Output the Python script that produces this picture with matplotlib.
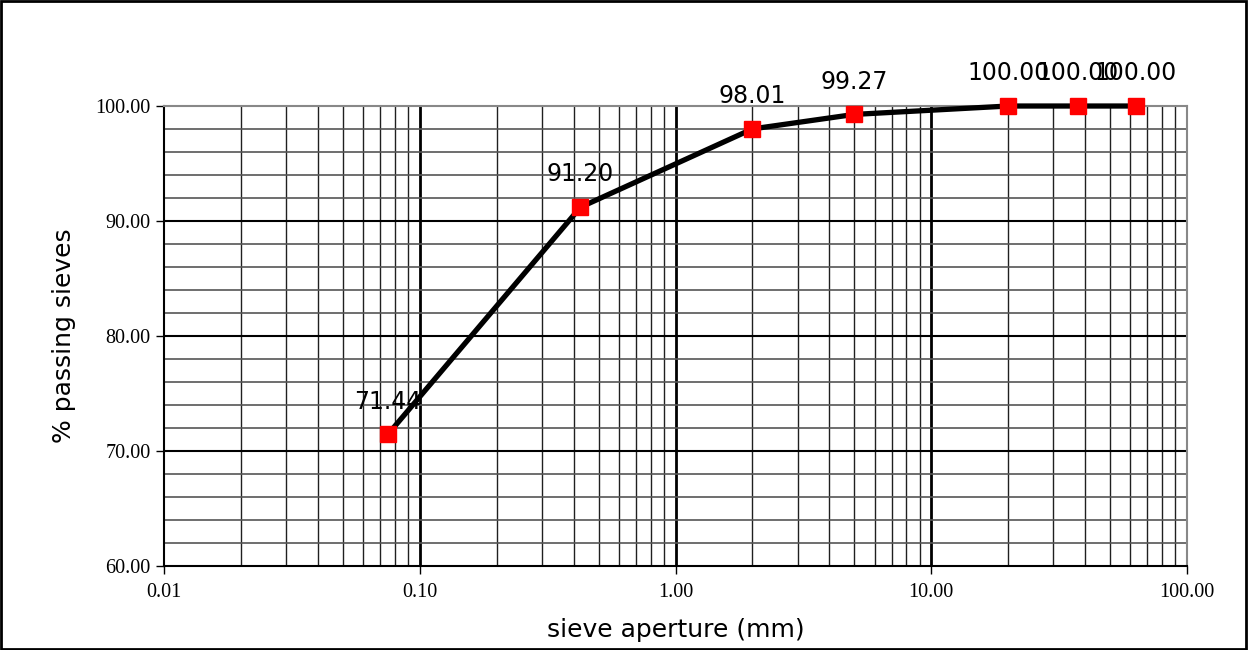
import numpy as np
import matplotlib.pyplot as plt
from matplotlib.patches import Rectangle
from matplotlib.ticker import FixedLocator, NullFormatter

# sieve data
aperture = [0.075, 0.425, 2.0, 5.0, 20.0, 37.5, 63.0]
passing = [71.44, 91.20, 98.01, 99.27, 100.00, 100.00, 100.00]

x_ticks = [0.01, 0.1, 1.0, 10.0, 100.0]
x_tick_labels = ['0.01', '0.10', '1.00', '10.00', '100.00']
y_ticks = [60, 70, 80, 90, 100]

fig = plt.figure(figsize=(12.5, 6.5), dpi=100)
ax = fig.add_axes([0.1312, 0.1292, 0.8184, 0.7077])

# frame round the whole figure
fig.patches.append(Rectangle((0.001, 0.002), 0.996, 0.996, transform=fig.transFigure,
                             fill=False, edgecolor='black', linewidth=2))

ax.set_xscale('log')
ax.set_xlim(0.01, 100)
ax.set_ylim(60, 100)

# grid lines
minors_x = [m * 10.0 ** e for e in range(-2, 2) for m in range(2, 10)]
for xv in minors_x:
    ax.axvline(xv, color='#202020', linewidth=1.0, zorder=1)
for xv in [0.1, 1.0, 10.0]:
    ax.axvline(xv, color='black', linewidth=2.0, zorder=1)
for yv in np.arange(62, 100, 2):
    if yv % 10 != 0:
        ax.axhline(yv, color='#555555', linewidth=1.2, zorder=1)
for yv in [70, 80, 90]:
    ax.axhline(yv, color='black', linewidth=1.5, zorder=1)

ax.xaxis.set_major_locator(FixedLocator(x_ticks))
ax.set_xticklabels(x_tick_labels)
ax.xaxis.set_minor_locator(FixedLocator(minors_x))
ax.xaxis.set_minor_formatter(NullFormatter())
ax.set_yticks(y_ticks)
ax.set_yticklabels(['%.2f' % v for v in y_ticks])

ax.tick_params(axis='both', which='major', labelsize=14.5, length=6, width=1, direction='out')
ax.tick_params(axis='x', which='major', pad=6)
ax.tick_params(axis='x', which='minor', length=0)
for lab in ax.get_xticklabels() + ax.get_yticklabels():
    lab.set_fontfamily('Liberation Serif')

for s in ['top', 'right']:
    ax.spines[s].set_color('#888888')
    ax.spines[s].set_linewidth(1.5)
ax.spines['left'].set_linewidth(1.5)
ax.spines['bottom'].set_linewidth(1.5)

ax.plot(aperture, passing, color='black', linewidth=3.8, zorder=4, clip_on=False)
ax.plot(aperture, passing, linestyle='none', marker='s', markersize=11,
        markerfacecolor='red', markeredgecolor='red', zorder=5, clip_on=False)

for xv, yv in zip(aperture, passing):
    ax.annotate('%.2f' % yv, (xv, yv), xytext=(0, 15), textcoords='offset points',
                ha='center', va='bottom', fontsize=17, fontfamily='DejaVu Sans', zorder=3)

ax.set_xlabel('sieve aperture (mm)', fontsize=18, fontfamily='DejaVu Sans', labelpad=12)
ax.set_ylabel('% passing sieves', fontsize=18, fontfamily='DejaVu Sans', labelpad=14)

fig.savefig('out.png', dpi=100)
